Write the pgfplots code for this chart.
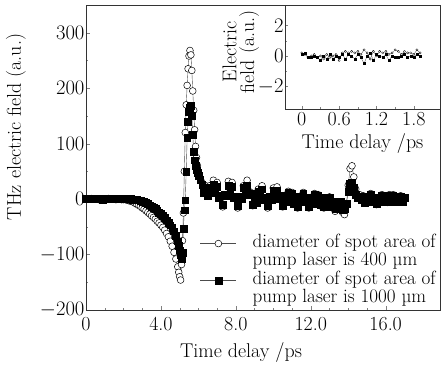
\documentclass[border=0pt]{standalone}
\usepackage{pgfplots}
\pgfplotsset{compat=1.18}
\begin{document}
\begin{tikzpicture}
\pgfplotsset{every axis/.append style={font=\fontsize{20}{21}\selectfont}}
\begin{axis}[
  scale only axis, width=354bp, height=305bp,
  at={(0,0)}, anchor=south west,
  xmin=0, xmax=18.9, ymin=-200, ymax=350,
  xtick={0,4,8,12,16}, xticklabels={0,4.0,8.0,12.0,16.0},
  minor x tick num=3,
  ytick={-200,-100,0,100,200,300}, minor y tick num=1,
  xtick pos=bottom, ytick pos=left,
  tick align=inside,
  major tick length=4bp, minor tick length=2.5bp,
  axis line style={black!80, line width=0.5bp},
  xticklabel style={yshift=-4bp},
  yticklabel style={xshift=2bp},
  xlabel={Time delay /ps},
  ylabel={THz electric field (a.u.)},
  xlabel style={at={(axis description cs:0.438,-0.138)}, anchor=center},
  ylabel style={at={(axis description cs:-0.198,0.6)}, anchor=center},
  legend style={at={(rel axis cs:0.322,0.256)}, anchor=north west, draw=none, fill=none,
    inner sep=0pt, row sep=0bp, font=\fontsize{19.2}{15}\selectfont,
    cells={inner ysep=1bp, inner xsep=0bp, align=left},
    /tikz/every odd column/.append style={column sep=14bp}},
  legend cell align=left,
  legend image code/.code={\draw[mark repeat=2,mark phase=2,#1,yshift=7bp] plot coordinates {(0bp,0bp) (18bp,0bp) (36bp,0bp)};},
]
\addplot[black!70, line width=0.4bp, mark=*, mark size=3.4bp, mark options={fill=white, draw=black, line width=0.5bp}] coordinates {
(0.0,0)(0.1,0)(0.2,0)(0.3,1)(0.4,0)(0.5,0)(0.6,0)(0.7,-1)(0.8,0)(0.9,0)
(1.0,0)(1.1,0)(1.2,1)(1.3,0)(1.4,0)(1.5,0)(1.6,-1)(1.7,0)(1.8,0)(1.9,-1)
(2.0,-1)(2.1,-1)(2.2,-2)(2.3,-3)(2.4,-4)(2.5,-5)(2.6,-7)(2.7,-9)(2.8,-11)(2.9,-13)
(3.0,-16)(3.1,-18)(3.2,-21)(3.3,-24)(3.4,-27)(3.5,-30)(3.6,-33)(3.7,-36)(3.8,-40)(3.9,-43)
(4.0,-47)(4.1,-51)(4.2,-56)(4.3,-62)(4.4,-68)(4.5,-76)(4.6,-85)(4.7,-96)(4.8,-108)(4.9,-122)
(4.95,-132)(5.0,-140)(5.05,-146)(5.1,-118)(5.15,-75)(5.2,-25)(5.25,50)(5.3,120)(5.35,170)(5.4,205)
(5.45,235)(5.5,258)(5.55,268)(5.6,260)(5.65,232)(5.7,195)(5.75,160)(5.8,125)(5.85,95)(5.9,75)(5.95,60)
(6.0,45)(6.1,38)(6.2,30)(6.3,16)(6.4,24)(6.5,10)(6.6,24)(6.7,18)(6.8,34)(6.9,24)
(7.0,30)(7.1,6)(7.2,4)(7.3,-14)(7.4,6)(7.5,8)(7.6,32)(7.7,24)(7.8,30)(7.9,4)
(8.0,2)(8.1,-16)(8.2,2)(8.3,2)(8.4,24)(8.5,20)(8.6,34)(8.7,14)(8.8,12)(8.9,-12)
(9.0,-2)(9.1,-6)(9.2,18)(9.3,14)(9.4,24)(9.5,0)(9.6,0)(9.7,-16)(9.8,2)(9.9,0)
(10.0,20)(10.1,11)(10.2,22)(10.3,2)(10.4,4)(10.5,-14)(10.6,0)(10.7,-4)(10.8,14)(10.9,4)
(11.0,12)(11.1,-8)(11.2,-2)(11.3,-16)(11.4,2)(11.5,-4)(11.6,12)(11.7,-2)(11.8,2)(11.9,-16)
(12.0,-2)(12.1,-8)(12.2,10)(12.3,0)(12.4,8)(12.5,-12)(12.6,-6)(12.7,-16)(12.8,2)(12.9,-6)
(13.0,4)(13.1,-14)(13.2,-8)(13.3,-22)(13.4,-6)(13.5,-14)(13.6,-6)(13.7,-24)(13.8,-28)(13.9,-12)
(14.0,25)(14.1,55)(14.2,60)(14.3,40)(14.4,18)(14.5,8)(14.6,8)(14.7,2)(14.8,6)(14.9,-6)
(15.0,4)(15.1,0)(15.2,10)(15.3,-2)(15.4,0)(15.5,-10)(15.6,2)(15.7,-2)(15.8,8)(15.9,-4)
(16.0,0)(16.1,-6)(16.2,8)(16.3,4)(16.4,8)(16.5,-4)(16.6,2)(16.7,-4)(16.8,6)(16.9,-4)(17.0,2)
};
\addlegendentry{diameter of spot area of\\pump laser is 400 µm}
\addplot[black!70, line width=0.4bp, mark=square*, mark size=3.4bp, mark options={fill=black, draw=black}] coordinates {
(0.0,0)(0.1,0)(0.2,0)(0.3,0)(0.4,1)(0.5,0)(0.6,0)(0.7,0)(0.8,0)(0.9,-1)
(1.0,0)(1.1,0)(1.2,0)(1.3,0)(1.4,1)(1.5,0)(1.6,0)(1.7,0)(1.8,0)(1.9,0)
(2.0,0)(2.1,0)(2.2,0)(2.3,0)(2.4,0)(2.5,-1)(2.6,-1)(2.7,-1)(2.8,-2)(2.9,-3)
(3.0,-4)(3.1,-5)(3.2,-7)(3.3,-9)(3.4,-11)(3.5,-13)(3.6,-15)(3.7,-18)(3.8,-21)(3.9,-24)
(4.0,-27)(4.1,-30)(4.2,-34)(4.3,-38)(4.4,-42)(4.5,-47)(4.6,-52)(4.7,-58)(4.8,-66)(4.9,-76)
(4.95,-84)(5.0,-92)(5.05,-100)(5.1,-107)(5.15,-96)(5.2,-54)(5.25,-20)(5.3,-2)(5.35,50)(5.4,110)
(5.45,140)(5.5,158)(5.55,165)(5.6,168)(5.65,150)(5.7,116)(5.75,85)(5.8,70)(5.85,60)(5.9,52)(5.95,47)
(6.0,42)(6.1,35)(6.2,26)(6.3,12)(6.4,20)(6.5,6)(6.6,20)(6.7,12)(6.8,26)(6.9,14)
(7.0,22)(7.1,2)(7.2,6)(7.3,-10)(7.4,8)(7.5,6)(7.6,24)(7.7,14)(7.8,22)(7.9,2)
(8.0,4)(8.1,-12)(8.2,4)(8.3,0)(8.4,20)(8.5,12)(8.6,24)(8.7,8)(8.8,10)(8.9,-10)
(9.0,0)(9.1,-6)(9.2,14)(9.3,8)(9.4,18)(9.5,-2)(9.6,2)(9.7,-12)(9.8,4)(9.9,-2)
(10.0,16)(10.1,6)(10.2,16)(10.3,0)(10.4,6)(10.5,-12)(10.6,2)(10.7,-4)(10.8,12)(10.9,2)
(11.0,10)(11.1,-8)(11.2,0)(11.3,-14)(11.4,4)(11.5,-4)(11.6,10)(11.7,-4)(11.8,2)(11.9,-14)
(12.0,0)(12.1,-8)(12.2,8)(12.3,-2)(12.4,6)(12.5,-10)(12.6,-2)(12.7,-14)(12.8,2)(12.9,-8)
(13.0,2)(13.1,-14)(13.2,-4)(13.3,-18)(13.4,-4)(13.5,-14)(13.6,-4)(13.7,-20)(13.8,-18)(13.9,-8)
(14.0,14)(14.1,28)(14.2,30)(14.3,20)(14.4,8)(14.5,2)(14.6,4)(14.7,-2)(14.8,4)(14.9,-6)
(15.0,4)(15.1,-2)(15.2,8)(15.3,-4)(15.4,0)(15.5,-8)(15.6,2)(15.7,-4)(15.8,6)(15.9,-4)
(16.0,2)(16.1,-4)(16.2,6)(16.3,0)(16.4,6)(16.5,-4)(16.6,2)(16.7,-4)(16.8,4)(16.9,-4)(17.0,2)
};
\addlegendentry{diameter of spot area of\\pump laser is 1000 µm}
\end{axis}
\begin{axis}[
  scale only axis, width=155bp, height=104bp,
  at={(199bp,201bp)}, anchor=south west,
  axis background/.style={fill=white},
  xmin=-0.27, xmax=2.22, ymin=-3.48, ymax=3.34,
  xtick={0,0.6,1.2,1.8}, xticklabels={0,0.6,1.2,1.8},
  minor x tick num=1,
  ytick={-2,0,2}, minor y tick num=1,
  xtick pos=bottom, ytick pos=left,
  tick align=inside,
  major tick length=3bp, minor tick length=2bp,
  axis line style={black!80, line width=0.5bp},
  yticklabel style={xshift=2bp},
  xlabel={Time delay /ps},
  ylabel={Electric\\field (a.u.)},
  xlabel style={at={(axis description cs:0.5,-0.33)}, anchor=center},
  ylabel style={at={(axis description cs:-0.285,0.55)}, anchor=center, align=center, font=\fontsize{20}{18}\selectfont},
]
\addplot[black!70, line width=0.3bp, mark=*, mark size=1.1bp, mark options={fill=white, draw=black, line width=0.3bp}] coordinates {
(0.0,0.2)(0.05,0.1)(0.1,-0.1)(0.15,0.0)(0.2,0.1)(0.25,-0.1)(0.3,0.0)(0.35,-0.2)(0.4,0.1)(0.45,-0.1)
(0.5,0.0)(0.55,0.1)(0.6,-0.3)(0.65,0.2)(0.7,0.3)(0.75,0.2)(0.8,0.3)(0.85,0.2)(0.9,0.3)(0.95,0.1)
(1.0,0.4)(1.05,0.2)(1.1,-0.2)(1.15,0.3)(1.2,0.0)(1.25,0.3)(1.3,0.2)(1.35,0.3)(1.4,0.1)(1.45,0.2)
(1.5,0.4)(1.55,0.3)(1.6,0.1)(1.65,0.3)(1.7,0.2)(1.75,0.2)(1.8,0.1)(1.85,0.4)(1.9,0.2)
};
\addplot[black!70, line width=0.3bp, mark=square*, mark size=1bp, mark options={fill=black, draw=black}] coordinates {
(0.0,0.1)(0.05,0.2)(0.1,-0.1)(0.15,-0.1)(0.2,0.0)(0.25,-0.1)(0.3,-0.3)(0.35,0.0)(0.4,-0.2)(0.45,0.1)
(0.5,-0.2)(0.55,0.0)(0.6,-0.1)(0.65,0.1)(0.7,-0.2)(0.75,0.1)(0.8,0.0)(0.85,-0.2)(0.9,0.1)(0.95,-0.1)
(1.0,-0.5)(1.05,0.0)(1.1,0.2)(1.15,-0.3)(1.2,0.1)(1.25,0.0)(1.3,-0.1)(1.35,0.1)(1.4,-0.3)(1.45,0.0)
(1.5,-0.1)(1.55,-0.1)(1.6,0.0)(1.65,0.1)(1.7,-0.1)(1.75,0.0)(1.8,-0.1)(1.85,0.1)(1.9,0.0)
};
\end{axis}
\pgfresetboundingbox
\path[use as bounding box] (-86bp,-57bp) rectangle (361bp,310bp);
\end{tikzpicture}
\end{document}
